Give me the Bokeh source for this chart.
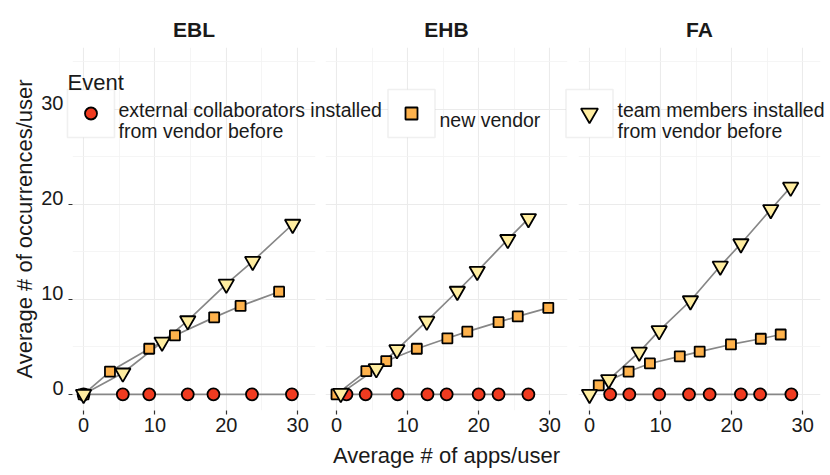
from bokeh.plotting import figure
from bokeh.models import (Range1d, FixedTicker, GridBox, Label, BoxAnnotation, LinearAxis,
                          Column)
from bokeh.embed import file_html
from bokeh.resources import INLINE

# ---------------- data ----------------
panels = ["EBL", "EHB", "FA"]
events = ["external collaborators installed from vendor before",
          "new vendor",
          "team members installed from vendor before"]
legend_title = "Event"
legend_lines = [["external collaborators installed", "from vendor before"],
                ["new vendor"],
                ["team members installed", "from vendor before"]]
x_ticks = [0, 10, 20, 30]
y_ticks = [0, 10, 20, 30]
x_title = "Average # of apps/user"
y_title = "Average # of occurrences/user"

ebl_ext_x = [0, 5.5, 9.2, 14.6, 18.2, 23.6, 29.2]
ebl_ext_y = [0, 0, 0, 0, 0, 0, 0]
ebl_new_x = [0, 3.7, 9.2, 12.8, 18.3, 22.0, 27.4]
ebl_new_y = [0, 2.4, 4.8, 6.2, 8.1, 9.3, 10.8]
ebl_team_x = [0, 5.5, 11.0, 14.6, 20.0, 23.7, 29.3]
ebl_team_y = [0, 2.25, 5.5, 7.75, 11.6, 14.0, 17.9]

ehb_ext_x = [1.4, 4.1, 8.6, 12.8, 15.5, 20.0, 22.8, 27.0]
ehb_ext_y = [0, 0, 0, 0, 0, 0, 0, 0]
ehb_new_x = [0, 4.2, 7.0, 11.3, 15.6, 18.4, 22.8, 25.5, 29.8]
ehb_new_y = [0, 2.45, 3.5, 4.8, 5.9, 6.6, 7.6, 8.2, 9.1]
ehb_team_x = [0.6, 5.6, 8.5, 12.7, 17.0, 19.8, 24.1, 27.0]
ehb_team_y = [0.1, 2.7, 4.7, 7.7, 10.85, 12.95, 16.3, 18.5]

fa_ext_x = [2.9, 5.6, 9.8, 14.0, 16.9, 21.3, 24.0, 28.4]
fa_ext_y = [0, 0, 0, 0, 0, 0, 0, 0]
fa_new_x = [1.3, 5.5, 8.5, 12.7, 15.5, 19.9, 24.1, 26.9]
fa_new_y = [0.95, 2.4, 3.25, 4.0, 4.5, 5.25, 5.85, 6.3]
fa_team_x = [0, 2.7, 7.0, 9.8, 14.2, 18.4, 21.3, 25.5, 28.3]
fa_team_y = [0, 1.55, 4.45, 6.7, 9.85, 13.5, 15.85, 19.45, 21.8]

# ---------------- styles ----------------
FONT = "Liberation Sans"
MARKERS = ["circle", "square", "inverted_triangle"]
FILLS = ["#F03B20", "#FEB24C", "#FFEDA0"]
SIZES = [12, 10, 15.5]
KEY_SIZES = [12, 12, 17]
LINE_GREY = "#878787"
TXT = "#1a1a1a"
W, H = 830, 475
TOP, BOTTOM = 47, 65
XR = (-1.55, 32.5)
YR = (-1.7, 36.5)
LABEL_LIFT = 0.7   # y tick labels sit just above their tick (data units)


def style_axis(ax):
    ax.axis_line_color = None
    ax.major_tick_line_color = "#333333"
    ax.major_tick_line_width = 1.2
    ax.major_tick_out = 4
    ax.major_tick_in = 0
    ax.minor_tick_line_color = None
    ax.major_label_text_font = FONT
    ax.major_label_text_font_size = "20px"
    ax.major_label_text_color = TXT
    ax.axis_label_text_font = FONT
    ax.axis_label_text_font_size = "22px"
    ax.axis_label_text_font_style = "normal"
    ax.axis_label_text_color = TXT


def make_panel(name, series, width, bl, br, show_y, xlabel):
    p = figure(width=width, height=H, x_range=Range1d(*XR),
               y_range=Range1d(*YR), output_backend="svg",
               toolbar_location=None, title=name,
               min_border_left=bl, min_border_right=br,
               min_border_top=TOP, min_border_bottom=BOTTOM)
    p.outline_line_color = None
    p.background_fill_color = "white"
    p.border_fill_color = "white"
    p.title.align = "center"
    p.title.text_font = FONT
    p.title.text_font_size = "21px"
    p.title.text_font_style = "bold"
    p.title.text_color = TXT
    p.title.standoff = 13

    p.xaxis.ticker = FixedTicker(ticks=x_ticks, minor_ticks=[5, 15, 25])
    p.yaxis.ticker = FixedTicker(ticks=y_ticks, minor_ticks=[5, 15, 25, 35])
    style_axis(p.xaxis[0])
    style_axis(p.yaxis[0])
    p.xaxis.major_label_standoff = 3
    p.xaxis.axis_label_standoff = 8
    if xlabel:
        p.xaxis.axis_label = x_title
    if show_y:
        # main axis: tick marks only
        p.yaxis.major_label_text_color = None
        p.yaxis.major_label_standoff = 0
        # label axis: same values, labels lifted onto their tick marks
        p.extra_y_ranges = {"lab": Range1d(YR[0] - LABEL_LIFT, YR[1] - LABEL_LIFT)}
        lab = LinearAxis(y_range_name="lab", ticker=FixedTicker(ticks=y_ticks, minor_ticks=[]))
        style_axis(lab)
        lab.major_tick_out = 0
        lab.major_tick_line_color = None
        lab.major_label_standoff = 5
        lab.axis_label = y_title
        lab.axis_label_standoff = 1
        p.add_layout(lab, "left")
    else:
        p.yaxis.visible = False

    for g in (p.xgrid, p.ygrid):
        g.grid_line_color = "#EBEBEB"
        g.grid_line_width = 1.1
        g.minor_grid_line_color = "#F3F3F3"
        g.minor_grid_line_width = 0.8

    for (xs, ys) in series:
        p.line(xs, ys, line_color=LINE_GREY, line_width=1.7)
    for i, (xs, ys) in enumerate(series):
        p.scatter(xs, ys, marker=MARKERS[i], size=SIZES[i],
                  fill_color=FILLS[i], line_color="black", line_width=1.8)
    return p


f1 = make_panel(panels[0], [(ebl_ext_x, ebl_ext_y), (ebl_new_x, ebl_new_y),
                            (ebl_team_x, ebl_team_y)], 320, 72, 5, True, False)
f2 = make_panel(panels[1], [(ehb_ext_x, ehb_ext_y), (ehb_new_x, ehb_new_y),
                            (ehb_team_x, ehb_team_y)], 252, 5, 5, False, True)
f3 = make_panel(panels[2], [(fa_ext_x, fa_ext_y), (fa_new_x, fa_new_y),
                            (fa_team_x, fa_team_y)], 258, 6, 10, False, False)

# ---------------- legend overlay (page pixel coordinates) ----------------
ov = figure(width=W, height=H, x_range=Range1d(0, W), y_range=Range1d(H, 0),
            output_backend="svg", toolbar_location=None,
            x_axis_location=None, y_axis_location=None, min_border=0)
ov.title.text = ""
ov.title.visible = False
ov.outline_line_color = None
ov.background_fill_color = None
ov.border_fill_color = None
ov.grid.visible = False

key_cx = [90.5, 411, 589]
key_cy = 113
key_half = 23.5
label_x = [118, 439, 617]
ov.add_layout(Label(x=67, y=82, text=legend_title, text_font=FONT,
                    text_font_size="22px", text_color=TXT, text_baseline="alphabetic"))
for i in range(3):
    ov.add_layout(BoxAnnotation(left=key_cx[i] - key_half, right=key_cx[i] + key_half,
                                top=key_cy - 24, bottom=key_cy + 24,
                                fill_color="white", fill_alpha=1.0,
                                line_color="#CCCCCC", line_width=1.6, level="underlay"))
for i in range(3):
    ov.scatter([key_cx[i]], [key_cy], marker=MARKERS[i], size=KEY_SIZES[i],
               fill_color=FILLS[i], line_color="black", line_width=1.8)
    lines = legend_lines[i]
    ys = [109, 130] if len(lines) == 2 else [119]
    for t, yy in zip(lines, ys):
        ov.add_layout(Label(x=label_x[i], y=yy, text=t, text_font=FONT,
                            text_font_size="19.5px", text_color=TXT,
                            text_baseline="alphabetic"))

overlay = Column(children=[ov], width=W, height=H)

layout = GridBox(children=[(f1, 0, 0), (f2, 0, 1), (f3, 0, 2), (overlay, 0, 0, 1, 3)], spacing=0)

open("out.html", "w").write(file_html(layout, INLINE))
